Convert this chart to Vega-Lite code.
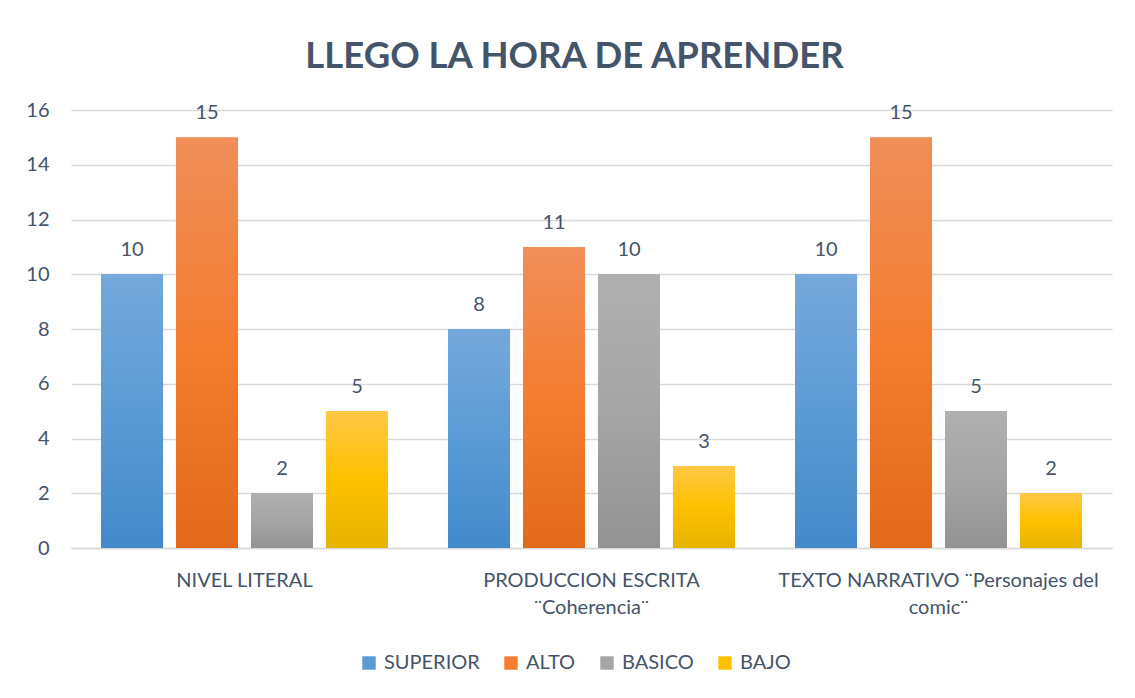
{
  "$schema": "https://vega.github.io/schema/vega-lite/v6.json",
  "autosize": "none",
  "width": 1041,
  "height": 438,
  "padding": {"left": 71, "top": 110, "right": 23, "bottom": 150},
  "background": "white",
  "title": {
    "text": "LLEGO LA HORA DE APRENDER",
    "font": "Lato",
    "fontSize": 36.5,
    "fontWeight": "bold",
    "color": "#44546A",
    "anchor": "middle",
    "dx": -17,
    "dy": 46,
    "offset": 42,
    "baseline": "alphabetic"
  },
  "config": {
    "view": {"stroke": null},
    "font": "Lato"
  },
  "data": {
    "values": [
      {"cat": "NIVEL LITERAL", "nivel": "SUPERIOR", "valor": 10},
      {"cat": "NIVEL LITERAL", "nivel": "ALTO", "valor": 15},
      {"cat": "NIVEL LITERAL", "nivel": "BASICO", "valor": 2},
      {"cat": "NIVEL LITERAL", "nivel": "BAJO", "valor": 5},
      {"cat": "PRODUCCION ESCRITA ¨Coherencia¨", "nivel": "SUPERIOR", "valor": 8},
      {"cat": "PRODUCCION ESCRITA ¨Coherencia¨", "nivel": "ALTO", "valor": 11},
      {"cat": "PRODUCCION ESCRITA ¨Coherencia¨", "nivel": "BASICO", "valor": 10},
      {"cat": "PRODUCCION ESCRITA ¨Coherencia¨", "nivel": "BAJO", "valor": 3},
      {"cat": "TEXTO NARRATIVO ¨Personajes del comic¨", "nivel": "SUPERIOR", "valor": 10},
      {"cat": "TEXTO NARRATIVO ¨Personajes del comic¨", "nivel": "ALTO", "valor": 15},
      {"cat": "TEXTO NARRATIVO ¨Personajes del comic¨", "nivel": "BASICO", "valor": 5},
      {"cat": "TEXTO NARRATIVO ¨Personajes del comic¨", "nivel": "BAJO", "valor": 2}
    ]
  },
  "encoding": {
    "x": {
      "field": "cat",
      "type": "nominal",
      "sort": null,
      "title": null,
      "scale": {"paddingInner": 0.173, "paddingOuter": 0.0865},
      "axis": {
        "labelAngle": 0,
        "labelFontSize": 20,
        "labelColor": "#44546A",
        "labelPadding": 22,
        "labelLineHeight": 27,
        "labelLimit": 400,
        "ticks": false,
        "domainColor": "#D9D9D9",
        "domainWidth": 1.5,
        "labelExpr": "datum.value == 'PRODUCCION ESCRITA ¨Coherencia¨' ? ['PRODUCCION ESCRITA', '¨Coherencia¨'] : datum.value == 'TEXTO NARRATIVO ¨Personajes del comic¨' ? ['TEXTO NARRATIVO ¨Personajes del', 'comic¨'] : datum.value"
      }
    },
    "xOffset": {
      "field": "nivel",
      "type": "nominal",
      "sort": ["SUPERIOR", "ALTO", "BASICO", "BAJO"],
      "scale": {"domain": ["SUPERIOR", "ALTO", "BASICO", "BAJO"], "paddingInner": 0.173, "paddingOuter": 0}
    },
    "y": {
      "field": "valor",
      "type": "quantitative",
      "title": null,
      "scale": {"domain": [0, 16], "nice": false},
      "axis": {
        "values": [0, 2, 4, 6, 8, 10, 12, 14, 16],
        "labelFontSize": 20,
        "labelColor": "#44546A",
        "labelPadding": 22,
        "ticks": false,
        "domain": false,
        "gridColor": "#D9D9D9",
        "gridWidth": 1.5
      }
    }
  },
  "layer": [
    {
      "mark": {"type": "bar"},
      "encoding": {
        "color": {
          "field": "nivel",
          "type": "nominal",
          "sort": ["SUPERIOR", "ALTO", "BASICO", "BAJO"],
          "scale": {"domain": ["SUPERIOR", "ALTO", "BASICO", "BAJO"], "range": ["#5B9BD5", "#F47D30", "#A5A5A5", "#FFC000"]},
          "legend": {
            "title": null,
            "orient": "none",
            "direction": "horizontal",
            "legendX": 288,
            "legendY": 543,
            "symbolType": "square",
            "symbolSize": 180,
            "symbolStrokeWidth": 0,
            "labelFontSize": 20,
            "labelColor": "#44546A",
            "labelOffset": 5,
            "columnPadding": 21
          }
        }
      }
    },
    {
      "mark": {"type": "bar"},
      "encoding": {
        "color": {
          "condition": [
            {"test": "datum.nivel == 'SUPERIOR'", "value": {"gradient": "linear", "x1": 0, "y1": 0, "x2": 0, "y2": 1, "stops": [{"offset": 0, "color": "#75A8DB"}, {"offset": 0.5, "color": "#5B9BD5"}, {"offset": 1, "color": "#4389CA"}]}},
            {"test": "datum.nivel == 'ALTO'", "value": {"gradient": "linear", "x1": 0, "y1": 0, "x2": 0, "y2": 1, "stops": [{"offset": 0, "color": "#F08E59"}, {"offset": 0.5, "color": "#F47D30"}, {"offset": 1, "color": "#E3691A"}]}},
            {"test": "datum.nivel == 'BASICO'", "value": {"gradient": "linear", "x1": 0, "y1": 0, "x2": 0, "y2": 1, "stops": [{"offset": 0, "color": "#B0B0B0"}, {"offset": 0.5, "color": "#A5A5A5"}, {"offset": 1, "color": "#939393"}]}}
          ],
          "value": {"gradient": "linear", "x1": 0, "y1": 0, "x2": 0, "y2": 1, "stops": [{"offset": 0, "color": "#FFC845"}, {"offset": 0.5, "color": "#FFC000"}, {"offset": 1, "color": "#E6B300"}]}
        }
      }
    },
    {
      "mark": {"type": "text", "baseline": "alphabetic", "dy": -18, "fontSize": 20, "color": "#44546A"},
      "encoding": {
        "text": {"field": "valor", "type": "quantitative"}
      }
    }
  ]
}
